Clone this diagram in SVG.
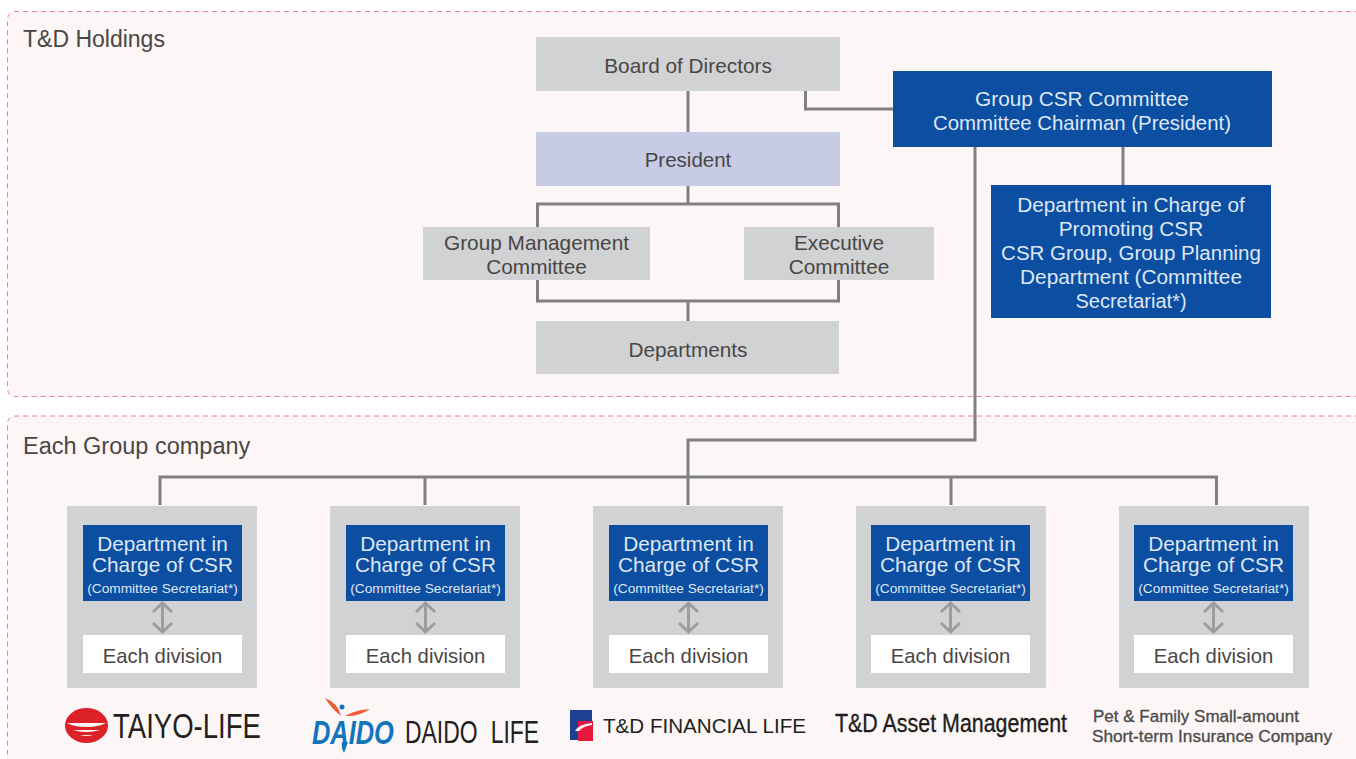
<svg xmlns="http://www.w3.org/2000/svg" width="1356" height="759" viewBox="0 0 1356 759">
<style>
text{font-family:"Liberation Sans",Arial,sans-serif;text-anchor:middle;font-size:20.800px}
.zone{fill:#fdf6f6;stroke:#f07c9c;stroke-width:1;stroke-dasharray:5 4}
.gray{fill:#d0d2d3}
.blue{fill:#0b4ea2}
.dk{fill:#4a4645}
.wh{fill:#fff}
.lt{fill:#dfe7f4}
.title{text-anchor:start;font-size:23.300px}
.small{font-size:13.700px}
.div{font-size:20.300px}
.conn{fill:none;stroke:#7f8081;stroke-width:3}
.dbl{fill:none;stroke:#9c9d9f;stroke-width:3}
.logo{text-anchor:start;fill:#231f20}
.l1{font-size:35px}
.l2{font-size:31px;word-spacing:9px}
.l3{font-size:21px}
.l4{font-size:25px;stroke:#111;stroke-width:.3px}
.l5{font-size:16.500px;fill:#4a4a4a;stroke:#4a4a4a;stroke-width:.3px}
.dd{text-anchor:start;font-size:33px;font-weight:700;font-style:italic;fill:#0f75bc}
</style>
<rect width="1356" height="759" fill="#fff"/>
<g id="zone-holdings"><path class="zone" d="M1360 11.500H16Q7.500 11.500 7.500 20V388Q7.500 396.500 16 396.500H1360"/><text class="title dk" x="23" y="47" style="font-size:23px">T&amp;D Holdings</text></g>
<g id="zone-group"><path class="zone" d="M1360 416H16Q7.500 416 7.500 424V760H1360"/><text class="title dk" x="23" y="454" style="font-size:23.500px">Each Group company</text></g>
<g id="connectors">
<path class="conn" d="M688 91V132M688 186V204M537.500 227V204H838.500V227M537.500 280V301H838.500V280M688 301V321M805.500 91V109H893M1123 147V185M975 147V440H688V505M160 505V477H1216.500V505M425 477V505M951 477V505"/>
</g>
<g id="board"><rect class="gray" x="536" y="37" width="304" height="54"/><text class="dk" x="688" y="73">Board of Directors</text></g>
<g id="president"><rect fill="#c7cbe6" x="536" y="132" width="304" height="54"/><text class="dk" x="688" y="167" style="font-size:20.500px">President</text></g>
<g id="gmc"><rect class="gray" x="423" y="227" width="227" height="53"/><text class="dk" x="536.500" y="250">Group Management</text><text class="dk" x="536.500" y="274">Committee</text></g>
<g id="exec"><rect class="gray" x="744" y="227" width="190" height="53"/><text class="dk" x="839" y="250">Executive</text><text class="dk" x="839" y="274">Committee</text></g>
<g id="departments"><rect class="gray" x="536" y="321" width="303" height="53"/><text class="dk" x="688" y="357">Departments</text></g>
<g id="csr-committee"><rect class="blue" x="893" y="71" width="379" height="76"/><text class="lt" x="1082" y="106">Group CSR Committee</text><text class="lt" x="1082" y="130" style="font-size:20.400px">Committee Chairman (President)</text></g>
<g id="csr-dept"><rect class="blue" x="991" y="185" width="280" height="133"/><text class="lt" x="1131" y="212">Department in Charge of</text><text class="lt" x="1131" y="236">Promoting CSR</text><text class="lt" x="1131" y="260" style="font-size:20.500px">CSR Group, Group Planning</text><text class="lt" x="1131" y="284">Department (Committee</text><text class="lt" x="1131" y="308" style="font-size:20px">Secretariat*)</text></g>
<g id="co1"><rect class="gray" x="67" y="506" width="190" height="182"/><rect class="blue" x="83" y="525" width="159" height="76"/><text class="lt" x="162.500" y="551">Department in</text><text class="lt" x="162.500" y="572">Charge of CSR</text><text class="lt small" x="162.500" y="593">(Committee Secretariat*)</text><path class="dbl" d="M162.500 603V632M153 612L162.500 603L172 612M153 623L162.500 632L172 623"/><rect class="wh" x="83" y="635" width="159" height="38"/><text class="dk div" x="162.500" y="663">Each division</text></g>
<g id="co2"><rect class="gray" x="330" y="506" width="190" height="182"/><rect class="blue" x="346" y="525" width="159" height="76"/><text class="lt" x="425.500" y="551">Department in</text><text class="lt" x="425.500" y="572">Charge of CSR</text><text class="lt small" x="425.500" y="593">(Committee Secretariat*)</text><path class="dbl" d="M425.500 603V632M416 612L425.500 603L435 612M416 623L425.500 632L435 623"/><rect class="wh" x="346" y="635" width="159" height="38"/><text class="dk div" x="425.500" y="663">Each division</text></g>
<g id="co3"><rect class="gray" x="593" y="506" width="190" height="182"/><rect class="blue" x="609" y="525" width="159" height="76"/><text class="lt" x="688.500" y="551">Department in</text><text class="lt" x="688.500" y="572">Charge of CSR</text><text class="lt small" x="688.500" y="593">(Committee Secretariat*)</text><path class="dbl" d="M688.500 603V632M679 612L688.500 603L698 612M679 623L688.500 632L698 623"/><rect class="wh" x="609" y="635" width="159" height="38"/><text class="dk div" x="688.500" y="663">Each division</text></g>
<g id="co4"><rect class="gray" x="856" y="506" width="190" height="182"/><rect class="blue" x="871" y="525" width="159" height="76"/><text class="lt" x="950.500" y="551">Department in</text><text class="lt" x="950.500" y="572">Charge of CSR</text><text class="lt small" x="950.500" y="593">(Committee Secretariat*)</text><path class="dbl" d="M950.500 603V632M941 612L950.500 603L960 612M941 623L950.500 632L960 623"/><rect class="wh" x="871" y="635" width="159" height="38"/><text class="dk div" x="950.500" y="663">Each division</text></g>
<g id="co5"><rect class="gray" x="1119" y="506" width="190" height="182"/><rect class="blue" x="1134" y="525" width="159" height="76"/><text class="lt" x="1213.500" y="551">Department in</text><text class="lt" x="1213.500" y="572">Charge of CSR</text><text class="lt small" x="1213.500" y="593">(Committee Secretariat*)</text><path class="dbl" d="M1213.500 603V632M1204 612L1213.500 603L1223 612M1204 623L1213.500 632L1223 623"/><rect class="wh" x="1134" y="635" width="159" height="38"/><text class="dk div" x="1213.500" y="663">Each division</text></g>
<g id="logo-taiyo">
<ellipse cx="86.500" cy="725.500" rx="21.500" ry="17.500" fill="#dc2127"/>
<path fill="#fdf6f6" d="M67 723H106Q99 727 86.500 727Q74 727 67 723ZM73 730H100Q94 732 86.500 732Q79 732 73 730ZM80 735H93Q86.500 737 80 735Z"/>
<text class="logo l1" transform="translate(113 738) scale(.787 1)">TAIYO-LIFE</text>
</g>
<g id="logo-daido">
<path fill="#ef5a34" d="M325 698Q338 703 341 716Q331 708 325 698ZM345 716Q355 710 370 709Q358 717 345 716Z"/>
<circle cx="342" cy="707" r="2.500" fill="#0f75bc"/>
<text class="dd" transform="translate(312 744) scale(.77 1)">DAIDO</text>
<path fill="#0f75bc" d="M342 742L348 742L344 753Q341 748 342 742Z"/>
<text class="logo l2" transform="translate(405 743) scale(.74 1)">DAIDO LIFE</text>
</g>
<g id="logo-financial">
<rect x="570" y="710" width="22" height="30" fill="#1f3f94"/>
<rect x="578" y="721" width="15" height="20" fill="#e6183c"/>
<path fill="#fff" d="M575 731Q579 724 592 723V725Q583 726 579 731Z"/>
<text class="logo l3" x="603" y="733" textLength="203" lengthAdjust="spacingAndGlyphs">T&amp;D FINANCIAL LIFE</text>
</g>
<g id="logo-asset"><text class="logo l4" x="835" y="732" textLength="232" lengthAdjust="spacingAndGlyphs">T&amp;D Asset Management</text></g>
<g id="logo-pet"><text class="logo l5" x="1093" y="722" textLength="206" lengthAdjust="spacingAndGlyphs">Pet &amp; Family Small-amount</text><text class="logo l5" x="1092" y="742" textLength="240" lengthAdjust="spacingAndGlyphs">Short-term Insurance Company</text></g>
</svg>
